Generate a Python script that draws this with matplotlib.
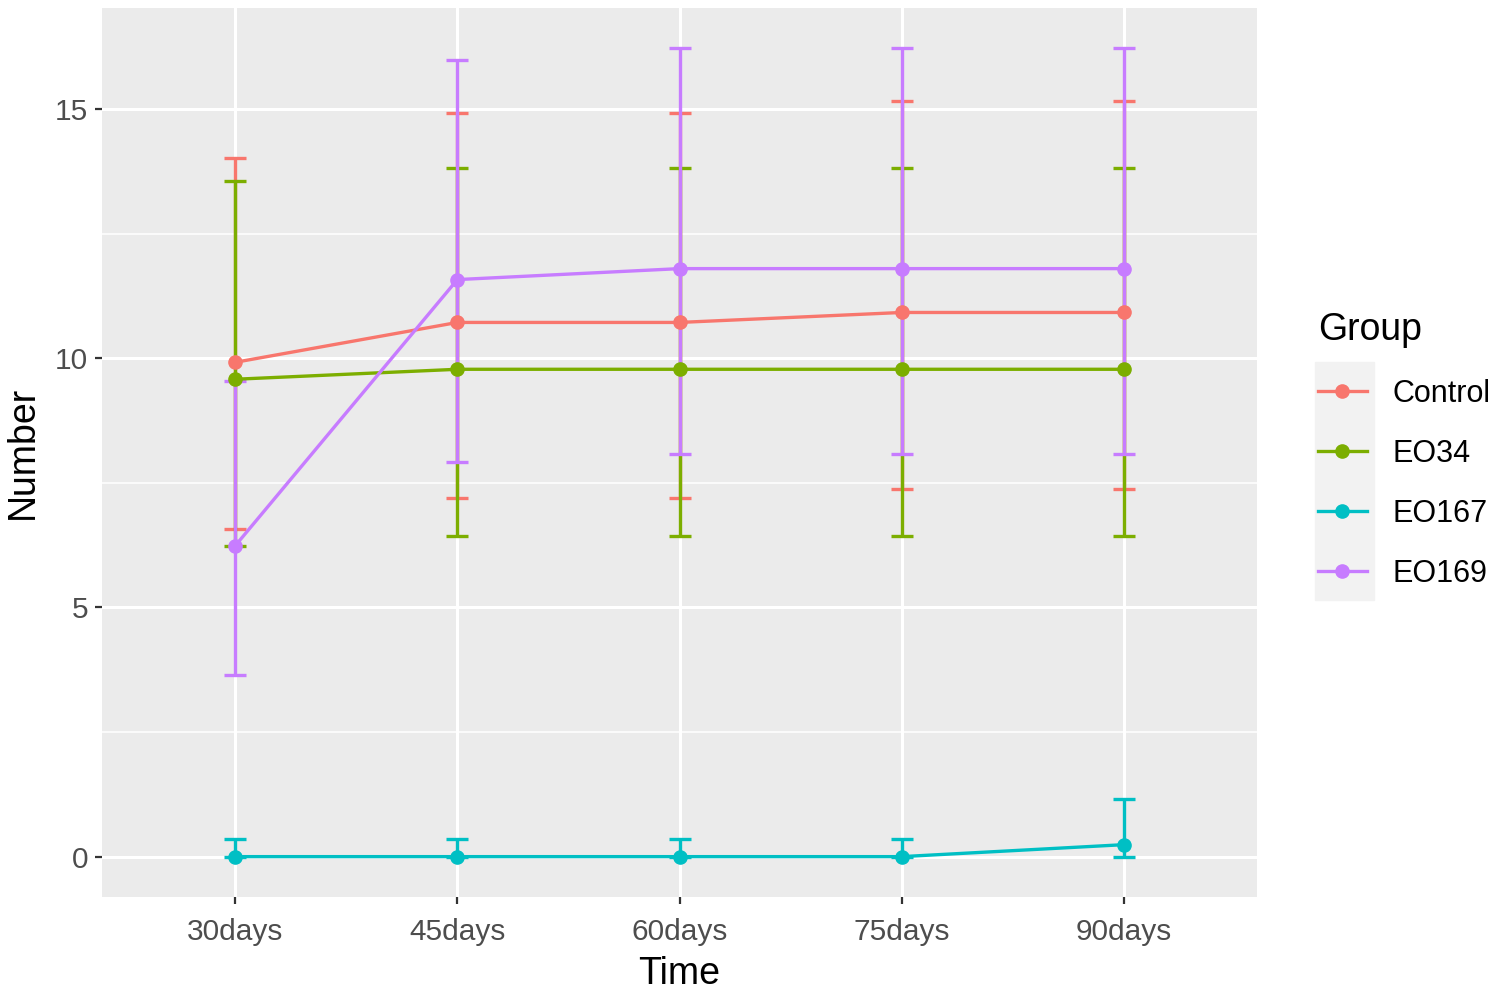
import matplotlib

matplotlib.use("Agg")
import matplotlib.pyplot as plt
from matplotlib.lines import Line2D
from matplotlib.patches import Rectangle
import numpy as np

plt.rcParams["font.family"] = ["Liberation Sans", "DejaVu Sans"]

times = ["30days", "45days", "60days", "75days", "90days"]
groups = ["Control", "EO34", "EO167", "EO169"]
colors = ["#F8766D", "#7CAE00", "#00BFC4", "#C77CFF"]

# mean, lower bound, upper bound
control_mean = [9.92, 10.72, 10.72, 10.92, 10.92]
control_low = [6.58, 7.20, 7.20, 7.38, 7.38]
control_high = [14.02, 14.92, 14.92, 15.16, 15.16]

eo34_mean = [9.58, 9.78, 9.78, 9.78, 9.78]
eo34_low = [6.24, 6.44, 6.44, 6.44, 6.44]
eo34_high = [13.56, 13.82, 13.82, 13.82, 13.82]

eo167_mean = [0.0, 0.0, 0.0, 0.0, 0.24]
eo167_low = [0.0, 0.0, 0.0, 0.0, 0.0]
eo167_high = [0.36, 0.36, 0.36, 0.36, 1.16]

eo169_mean = [6.24, 11.58, 11.80, 11.80, 11.80]
eo169_low = [3.64, 7.92, 8.08, 8.08, 8.08]
eo169_high = [9.54, 15.98, 16.22, 16.22, 16.22]

means = [control_mean, eo34_mean, eo167_mean, eo169_mean]
lows = [control_low, eo34_low, eo167_low, eo169_low]
highs = [control_high, eo34_high, eo167_high, eo169_high]

fig = plt.figure(figsize=(15.07, 9.94), dpi=100)
ax = fig.add_axes([102 / 1507, 1 - 897 / 994, 1155 / 1507, 889 / 994])
ax.set_facecolor("#EBEBEB")
for s in ax.spines.values():
    s.set_visible(False)

x = np.arange(len(times))
for name, col, m, lo, hi in zip(groups, colors, means, lows, highs):
    m = np.array(m)
    yerr = np.vstack([m - np.array(lo), np.array(hi) - m])
    ax.errorbar(x, m, yerr=yerr, color=col, lw=2.4, capsize=8, capthick=2.4,
                marker="o", ms=9.5, zorder=3)

ax.set_xlim(-0.6, len(times) - 0.4)
ax.set_ylim(-0.81, 17.03)
ax.set_xticks(x)
ax.set_xticklabels(times)
ax.set_yticks([0, 5, 10, 15])
ax.set_yticks([2.5, 7.5, 12.5], minor=True)
ax.grid(True, which="major", color="white", lw=2.2, zorder=0)
ax.grid(True, which="minor", axis="y", color="white", lw=1.1, zorder=0)
ax.set_axisbelow(True)
ax.tick_params(which="major", length=5, width=1.6, color="#333333",
               labelsize=21.5, labelcolor="#4D4D4D", pad=5)
ax.tick_params(axis="x", which="major", pad=10)
ax.tick_params(which="minor", length=0)
ax.set_xlabel("Time", fontsize=27, labelpad=7)
ax.set_ylabel("Number", fontsize=27, labelpad=10)

handles = [Line2D([], [], color=c, lw=2.4, marker="o", ms=9.5) for c in colors]
fig.patches.append(Rectangle((1315 / 1507, 1 - 600 / 994), 59 / 1507, 238 / 994,
                             transform=fig.transFigure, color="#F2F2F2", zorder=0))
leg = fig.legend(handles, groups, loc="upper left",
                 bbox_to_anchor=(1318 / 1507, 1 - 312 / 994),
                 frameon=False, fontsize=22, title="Group", title_fontsize=27,
                 alignment="left", handlelength=1.6, handletextpad=0.85,
                 labelspacing=0.985, borderpad=0, borderaxespad=0)
leg._legend_box.sep = 22

fig.savefig("out.png", dpi=100)
